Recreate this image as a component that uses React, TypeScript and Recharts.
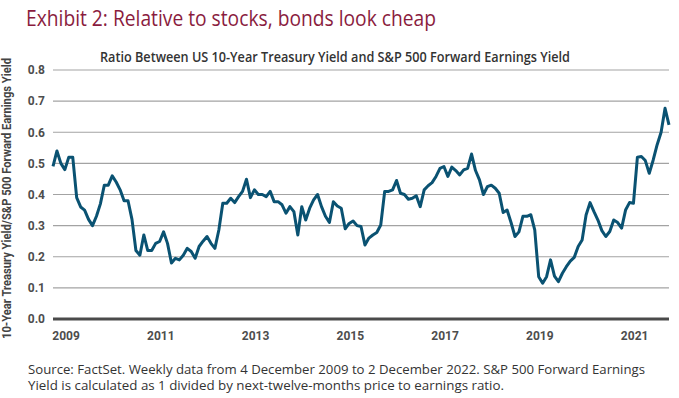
import React from 'react';
import { LineChart, Line, XAxis, YAxis, CartesianGrid, ReferenceLine } from 'recharts';

// ratio, roughly one reading per month (Dec 2009 -> Dec 2022)
const ratio = [
  0.49, 0.54, 0.50, 0.48, 0.52, 0.52, 0.39, 0.36, 0.35, 0.32,
  0.30, 0.33, 0.37, 0.43, 0.43, 0.46, 0.44, 0.415, 0.38, 0.38,
  0.32, 0.22, 0.205, 0.27, 0.22, 0.22, 0.243, 0.249, 0.28, 0.243,
  0.18, 0.195, 0.19, 0.205, 0.227, 0.217, 0.195, 0.233, 0.25, 0.265,
  0.243, 0.227, 0.286, 0.372, 0.372, 0.388, 0.374, 0.393, 0.41, 0.449,
  0.39, 0.415, 0.40, 0.40, 0.393, 0.41, 0.377, 0.377, 0.367, 0.34,
  0.361, 0.345, 0.27, 0.361, 0.318, 0.356, 0.383, 0.40, 0.361, 0.33,
  0.31, 0.377, 0.363, 0.356, 0.29, 0.307, 0.315, 0.30, 0.297, 0.238,
  0.26, 0.27, 0.278, 0.302, 0.41, 0.41, 0.415, 0.445, 0.404, 0.40,
  0.385, 0.388, 0.396, 0.361, 0.415, 0.428, 0.438, 0.458, 0.484, 0.49,
  0.458, 0.488, 0.477, 0.463, 0.479, 0.484, 0.53, 0.477, 0.447, 0.40,
  0.425, 0.43, 0.42, 0.404, 0.342, 0.35, 0.31, 0.265, 0.28, 0.33,
  0.33, 0.335, 0.286, 0.136, 0.115, 0.136, 0.19, 0.138, 0.12, 0.147,
  0.168, 0.186, 0.198, 0.233, 0.254, 0.334, 0.374, 0.345, 0.318, 0.284,
  0.265, 0.281, 0.318, 0.31, 0.292, 0.35, 0.374, 0.372, 0.52, 0.522,
  0.509, 0.468, 0.511, 0.56, 0.60, 0.677, 0.624,
];

// where the year labels sit, in months from the first reading
const tickMonths = [3.3, 27.3, 51.3, 75.3, 99.3, 123.3, 147.3];
const tickYears = ['2009', '2011', '2013', '2015', '2017', '2019', '2021'];
const yTicks = [0, 0.1, 0.2, 0.3, 0.4, 0.5, 0.6, 0.7, 0.8];

const data = ratio.map((value, month) => ({ month, value }));

const tickStyle = { fill: '#4d4d4d', fontSize: 12, fontWeight: 700, fontFamily: 'Roboto' };

const App: React.FC = () => {
  return (
    <div style={{ position: 'absolute', left: 0, top: 0, width: 679, height: 398, background: '#fff' }}>
      <div style={{ position: 'absolute', left: 0, top: 0 }}>
        <LineChart width={679} height={345} data={data} margin={{ top: 70, right: 10, bottom: 0, left: 0 }}>
          <CartesianGrid vertical={false} stroke="#a3a3a3" strokeWidth={1.2} />
          <XAxis
            dataKey="month"
            type="number"
            domain={[0, ratio.length - 1]}
            ticks={tickMonths}
            interval={0}
            tickFormatter={(v: number) => tickYears[tickMonths.indexOf(v)]}
            axisLine={false}
            tickLine={false}
            tickMargin={6}
            height={26}
            tick={tickStyle}
          />
          <YAxis
            domain={[0, 0.8]}
            ticks={yTicks}
            interval={0}
            tickFormatter={(v: number) => v.toFixed(1)}
            axisLine={false}
            tickLine={false}
            width={53}
            tick={tickStyle}
          />
          <ReferenceLine y={0} stroke="#4a4a4a" strokeWidth={3} />
          <Line
            type="linear"
            dataKey="value"
            stroke="#0a5272"
            strokeWidth={3}
            strokeLinejoin="round"
            dot={false}
            isAnimationActive={false}
          />
        </LineChart>
      </div>
      <svg width={679} height={398} style={{ position: 'absolute', left: 0, top: 0, pointerEvents: 'none' }}>
        <text x={26} y={26} fontSize={21} fill="#8a1c3e" fontFamily="Open Sans" textLength={410} lengthAdjust="spacingAndGlyphs">
          Exhibit 2: Relative to stocks, bonds look cheap
        </text>
        <text x={100} y={62} fontSize={14} fontWeight={600} fill="#333" fontFamily="Open Sans" textLength={470} lengthAdjust="spacingAndGlyphs">
          Ratio Between US 10-Year Treasury Yield and S&amp;P 500 Forward Earnings Yield
        </text>
        <text transform="translate(11,339) rotate(-90)" fontSize={12} fontWeight={700} fill="#444" fontFamily="Roboto" textLength={281} lengthAdjust="spacingAndGlyphs">
          10-Year Treasury Yield/S&amp;P 500 Forward Earnings Yield
        </text>
        <text x={28} y={373.5} fontSize={12} fill="#333" fontFamily="Open Sans" textLength={617} lengthAdjust="spacingAndGlyphs">
          Source: FactSet. Weekly data from 4 December 2009 to 2 December 2022. S&amp;P 500 Forward Earnings
        </text>
        <text x={28} y={390} fontSize={12} fill="#333" fontFamily="Open Sans" textLength={476} lengthAdjust="spacingAndGlyphs">
          Yield is calculated as 1 divided by next-twelve-months price to earnings ratio.
        </text>
      </svg>
    </div>
  );
};

export default App;
